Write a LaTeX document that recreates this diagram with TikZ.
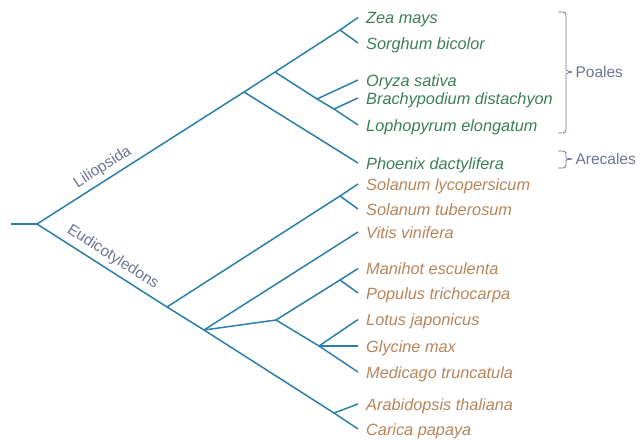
\documentclass[tikz,border=0pt]{standalone}
\usepackage{fontspec}
\setmainfont{Liberation Sans}
\definecolor{treeblue}{HTML}{2A80A8}
\definecolor{monogreen}{HTML}{3C7D5C}
\definecolor{dicotbrown}{HTML}{B8845A}
\definecolor{cladegrey}{HTML}{6F7396}

\begin{document}
\begin{tikzpicture}[x=1pt, y=-1pt,
    branch/.style={treeblue, line width=1.5pt},
    leaf/.style={anchor=west, inner xsep=8pt, inner ysep=0pt, text height=14pt, text depth=1.5pt, font=\fontsize{16.3}{19}\selectfont\itshape},
    monocot/.style={leaf, text=monogreen},
    dicot/.style={leaf, text=dicotbrown},
    clade/.style={text=cladegrey, font=\fontsize{15.5}{18}\selectfont},
    group/.style={cladegrey, line width=0.8pt, rounded corners=3pt}]
    \useasboundingbox (0,0) rectangle (644,439);

    % Inner nodes
    \coordinate (stem) at (11,224);
    \coordinate (root) at (37,224);
    \coordinate (lil) at (244,92);
    \coordinate (poa) at (275,72);
    \coordinate (zs) at (340,30);
    \coordinate (obl) at (317,99);
    \coordinate (bl) at (334,109);
    \coordinate (eud1) at (167,307);
    \coordinate (sol) at (340,196);
    \coordinate (eud2) at (204,330);
    \coordinate (ros) at (276,320);
    \coordinate (mp) at (340,280);
    \coordinate (fab) at (319,346);
    \coordinate (ac) at (334,413);

    % Monocots
    \node[monocot] (zea) at (358,17.5) {Zea mays};
    \node[monocot] (sor) at (358,43) {Sorghum bicolor};
    \node[monocot] (ory) at (358,80) {Oryza sativa};
    \node[monocot] (bra) at (358,98) {Brachypodium distachyon};
    \node[monocot] (lop) at (358,125) {Lophopyrum elongatum};
    \node[monocot] (pho) at (358,163) {Phoenix dactylifera};

    % Dicots
    \node[dicot] (sly) at (358,184) {Solanum lycopersicum};
    \node[dicot] (stu) at (358,209) {Solanum tuberosum};
    \node[dicot] (vit) at (358,232) {Vitis vinifera};
    \node[dicot] (man) at (358,268.5) {Manihot esculenta};
    \node[dicot] (pop) at (358,293) {Populus trichocarpa};
    \node[dicot] (lot) at (358,319.5) {Lotus japonicus};
    \node[dicot] (gly) at (358,346) {Glycine max};
    \node[dicot] (med) at (358,372) {Medicago truncatula};
    \node[dicot] (ara) at (358,404) {Arabidopsis thaliana};
    \node[dicot] (car) at (358,429) {Carica papaya};

    % Branches
    \draw[branch] (stem) -- (root);
    \draw[branch] (root) -- (lil) node[clade, pos=0.35, sloped, above=1pt] {Liliopsida};
    \draw[branch] (lil) -- (poa) -- (zs) -- (zea.west);
    \draw[branch] (zs) -- (sor.west);
    \draw[branch] (poa) -- (obl) -- (bl) -- (lop.west);
    \draw[branch] (obl) -- (ory.west);
    \draw[branch] (bl) -- (bra.west);
    \draw[branch] (lil) -- (pho.west);
    \draw[branch] (root) -- (eud1) node[clade, pos=0.53, sloped, above=1.5pt] {Eudicotyledons};
    \draw[branch] (eud1) -- (sol) -- (sly.west);
    \draw[branch] (sol) -- (stu.west);
    \draw[branch] (eud1) -- (eud2) -- (vit.west);
    \draw[branch] (eud2) -- (ros) -- (mp) -- (man.west);
    \draw[branch] (mp) -- (pop.west);
    \draw[branch] (ros) -- (fab) -- (med.west);
    \draw[branch] (fab) -- (lot.west);
    \draw[branch] (fab) -- (gly.west);
    \draw[branch] (eud2) -- (ac) -- (car.west);
    \draw[branch] (ac) -- (ara.west);

    % Groups
    \coordinate (poatip) at (572,72);
    \coordinate (aretip) at (572,159);
    \node[clade, anchor=west] (poales) at (poatip) {Poales};
    \node[clade, anchor=west] (arecales) at (aretip) {Arecales};
    \draw[group] (558,12) -| (566,67) to[out=-90, in=180] (poatip);
    \draw[group] (poatip) to[out=180, in=90] (566,77) |- (558,133);
    \draw[group] (558,151) -| (566,155) to[out=-90, in=180] (aretip);
    \draw[group] (aretip) to[out=180, in=90] (566,163) |- (558,168);
\end{tikzpicture}
\end{document}
